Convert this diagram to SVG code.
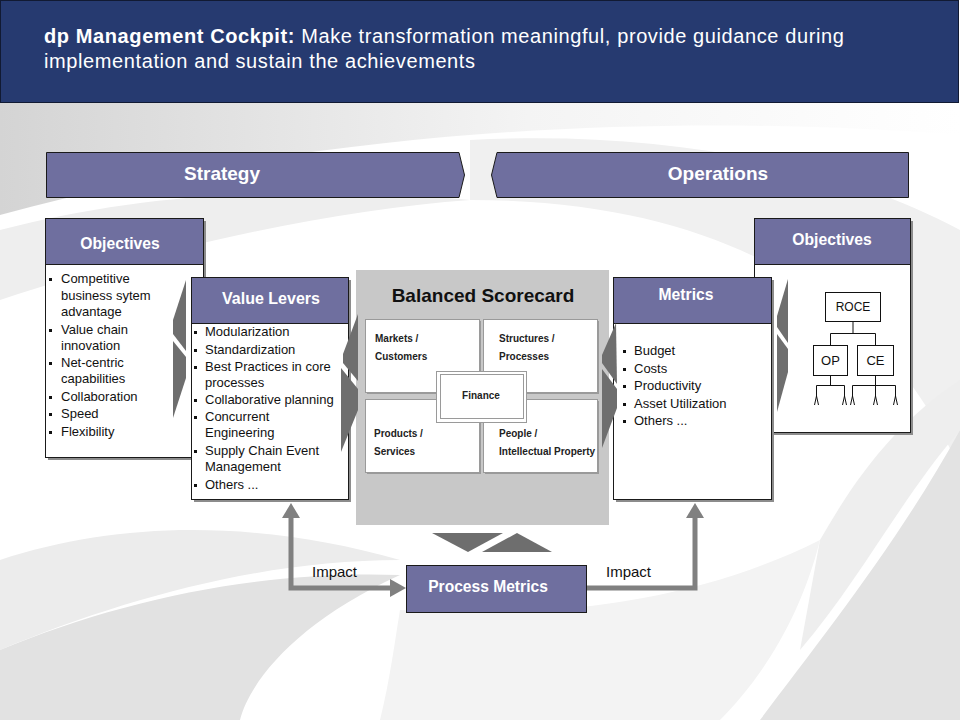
<svg xmlns="http://www.w3.org/2000/svg" width="960" height="720" viewBox="0 0 960 720">
<defs>
<style>
.t{font-family:"Liberation Sans",Arial,sans-serif}
.hd{fill:#6f6f9f;stroke:#1a1a1a;stroke-width:1}
.bx{fill:#fff;stroke:#1a1a1a;stroke-width:1}
.sh{fill:#8c8c8c}
.ht{font-family:"Liberation Sans",Arial,sans-serif;font-weight:bold;font-size:15.7px;fill:#fff;text-anchor:middle}
.bl{font-family:"Liberation Sans",Arial,sans-serif;font-size:13px;fill:#111}
.bu{fill:#111}
.chev{fill:#6e6e6e}
.q{fill:#fff;stroke:#9a9a9a;stroke-width:1}
.qt{font-family:"Liberation Sans",Arial,sans-serif;font-weight:bold;font-size:10px;fill:#222}
.tr{fill:#fff;stroke:#111;stroke-width:1}
.ln{fill:none;stroke:#111;stroke-width:1}
.conn{fill:none;stroke:#808080;stroke-width:5}
.ahd{fill:#808080}
</style>
<linearGradient id="bgTop" x1="0" y1="0" x2="1" y2="0">
<stop offset="0" stop-color="#d4d4d4"/>
<stop offset="0.55" stop-color="#f4f4f4"/>
<stop offset="1" stop-color="#ffffff"/>
</linearGradient>
</defs>

<g id="background">
<rect x="0" y="0" width="960" height="720" fill="#ffffff"/>
<path d="M0,103 H960 V135 C700,115 350,120 0,215 Z" fill="url(#bgTop)"/>
<path d="M0,230 C150,190 320,185 470,200 C330,210 150,250 0,300 Z" fill="#eeeeee"/>
<path d="M470,140 C650,130 830,160 960,230 V470 C900,330 760,200 470,200 Z" fill="#f0f0f0"/>
<path d="M0,560 C120,520 260,520 400,560 C260,560 120,600 0,650 Z" fill="#ececec"/>
<path d="M0,650 C120,600 260,570 400,575 C300,620 250,680 240,720 H0 Z" fill="#e2e2e2"/>
<path d="M400,610 C560,620 700,600 820,540 C800,620 760,680 720,720 H380 C390,680 395,640 400,610 Z" fill="#f3f3f3"/>
<path d="M960,430 C900,540 820,640 760,720 H960 Z" fill="#e3e3e3"/>
<path d="M820,540 C860,470 900,420 960,380 V430 C900,500 860,580 800,650 Z" fill="#eeeeee"/>
</g>

<g id="header">
<rect x="0.5" y="0.5" width="958" height="102" fill="#263a70" stroke="#111a33" stroke-width="1"/>
<text class="t" x="44" y="43" font-size="20" letter-spacing="0.6" fill="#fff"><tspan font-weight="bold">dp Management Cockpit:</tspan> Make transformation meaningful, provide guidance during</text>
<text class="t" x="44" y="68" font-size="20" letter-spacing="0.6" fill="#fff">implementation and sustain the achievements</text>
</g>

<g id="strategy">
<path d="M46.5,152.5 H459 L464.5,175 L459,197.5 H46.5 Z" class="hd"/>
<text class="t" x="222" y="180" font-size="19" font-weight="bold" fill="#fff" text-anchor="middle">Strategy</text>
</g>

<g id="operations">
<path d="M908.5,152.5 H497 L491.5,175 L497,197.5 H908.5 Z" class="hd"/>
<text class="t" x="718" y="180" font-size="19" font-weight="bold" fill="#fff" text-anchor="middle">Operations</text>
</g>

<g id="objectives-left">
<rect x="48" y="221" width="158" height="239" class="sh"/>
<rect x="45.5" y="218.5" width="158" height="239" class="bx"/>
<rect x="45.5" y="218.5" width="158" height="46" class="hd"/>
<text class="ht" x="120" y="249">Objectives</text>
<g class="bu">
<rect x="49" y="278" width="3" height="3"/><rect x="49" y="329" width="3" height="3"/><rect x="49" y="362" width="3" height="3"/><rect x="49" y="396" width="3" height="3"/><rect x="49" y="413" width="3" height="3"/><rect x="49" y="431" width="3" height="3"/>
</g>
<text class="bl" x="61" y="283">Competitive</text>
<text class="bl" x="61" y="299.5">business sytem</text>
<text class="bl" x="61" y="316">advantage</text>
<text class="bl" x="61" y="334">Value chain</text>
<text class="bl" x="61" y="350">innovation</text>
<text class="bl" x="61" y="367">Net-centric</text>
<text class="bl" x="61" y="383">capabilities</text>
<text class="bl" x="61" y="401">Collaboration</text>
<text class="bl" x="61" y="418">Speed</text>
<text class="bl" x="61" y="436">Flexibility</text>
</g>

<g id="chevron-a">
<polygon class="chev" points="186,280 173,320 173,334 186,351"/>
<polygon class="chev" points="173,341 186,357 186,378 173,418"/>
</g>

<g id="value-levers">
<rect x="194" y="280" width="157" height="222" class="sh"/>
<rect x="191.5" y="277.5" width="157" height="222" class="bx"/>
<rect x="191.5" y="277.5" width="157" height="46" class="hd"/>
<text class="ht" x="271" y="304" style="font-size:16px">Value Levers</text>
<g class="bu">
<rect x="194" y="331" width="3" height="3"/><rect x="194" y="349" width="3" height="3"/><rect x="194" y="366" width="3" height="3"/><rect x="194" y="399" width="3" height="3"/><rect x="194" y="416" width="3" height="3"/><rect x="194" y="450" width="3" height="3"/><rect x="194" y="484" width="3" height="3"/>
</g>
<text class="bl" x="205" y="336">Modularization</text>
<text class="bl" x="205" y="354">Standardization</text>
<text class="bl" x="205" y="370.5">Best Practices in core</text>
<text class="bl" x="205" y="386.5">processes</text>
<text class="bl" x="205" y="404">Collaborative planning</text>
<text class="bl" x="205" y="421">Concurrent</text>
<text class="bl" x="205" y="437">Engineering</text>
<text class="bl" x="205" y="455">Supply Chain Event</text>
<text class="bl" x="205" y="471">Management</text>
<text class="bl" x="205" y="489">Others  ...</text>
</g>

<g id="balanced-scorecard">
<rect x="356" y="270" width="253" height="255" fill="#c8c8c8"/>
<text class="t" x="483" y="302" font-size="19" font-weight="bold" fill="#111" text-anchor="middle">Balanced Scorecard</text>
<rect x="367" y="321" width="114" height="73" fill="#9a9a9a"/>
<rect x="485" y="321" width="114" height="73" fill="#9a9a9a"/>
<rect x="367" y="401" width="114" height="73" fill="#9a9a9a"/>
<rect x="485" y="401" width="114" height="73" fill="#9a9a9a"/>
<rect x="365.5" y="319.5" width="114" height="73" class="q"/>
<rect x="483.5" y="319.5" width="114" height="73" class="q"/>
<rect x="365.5" y="399.5" width="114" height="73" class="q"/>
<rect x="483.5" y="399.5" width="114" height="73" class="q"/>
<rect x="436.5" y="371.5" width="90" height="51" fill="#fff" stroke="#9a9a9a"/>
<rect x="440.5" y="374.5" width="83" height="44" fill="#fff" stroke="#9a9a9a"/>
<text class="qt" x="375" y="342">Markets /</text>
<text class="qt" x="375" y="360">Customers</text>
<text class="qt" x="499" y="342">Structures /</text>
<text class="qt" x="499" y="360">Processes</text>
<text class="qt" x="481" y="399" text-anchor="middle">Finance</text>
<text class="qt" x="374" y="437">Products /</text>
<text class="qt" x="374" y="455">Services</text>
<text class="qt" x="499" y="437">People /</text>
<text class="qt" x="499" y="455">Intellectual Property</text>
</g>

<g id="chevron-b">
<polygon class="chev" points="358,314 343,354 343,363 358,381"/>
<polygon class="chev" points="341,368 358,389 358,410 341,452"/>
</g>

<g id="objectives-right">
<rect x="757" y="221" width="156" height="214" class="sh"/>
<rect x="754.5" y="218.5" width="156" height="214" class="bx"/>
<rect x="754.5" y="218.5" width="156" height="46" class="hd"/>
<text class="ht" x="832" y="245">Objectives</text>
<rect x="825.5" y="292.5" width="55" height="29" class="tr"/>
<text class="t" x="853" y="311" font-size="12" fill="#111" text-anchor="middle">ROCE</text>
<rect x="813.5" y="345.5" width="34" height="30" class="tr"/>
<text class="t" x="830.5" y="365" font-size="13" fill="#111" text-anchor="middle">OP</text>
<rect x="857.5" y="345.5" width="36" height="30" class="tr"/>
<text class="t" x="875.5" y="365" font-size="13" fill="#111" text-anchor="middle">CE</text>
<path class="ln" d="M853,322 V333.5 M830.5,333.5 H875.5 M830.5,333.5 V345 M875.5,333.5 V345"/>
<path class="ln" d="M830.5,376 V385.5 M816.5,385.5 H844.5 M816.5,385.5 V397 M844.5,385.5 V397"/>
<path class="ln" d="M875.5,376 V385.5 M852.5,385.5 H895.5 M852.5,385.5 V397 M875.5,385.5 V397 M895.5,385.5 V397"/>
<path class="ln" d="M814.5,405 L816.5,396 L818.5,405 M842.5,405 L844.5,396 L846.5,405 M850.5,405 L852.5,396 L854.5,405 M873.5,405 L875.5,396 L877.5,405 M893.5,405 L895.5,396 L897.5,405"/>
</g>

<g id="metrics">
<rect x="616" y="280" width="158" height="222" class="sh"/>
<rect x="613.5" y="277.5" width="158" height="222" class="bx"/>
<rect x="613.5" y="277.5" width="158" height="46" class="hd"/>
<text class="ht" x="686" y="300">Metrics</text>
<g class="bu">
<rect x="623" y="350" width="3" height="3"/><rect x="623" y="368" width="3" height="3"/><rect x="623" y="385" width="3" height="3"/><rect x="623" y="403" width="3" height="3"/><rect x="623" y="420" width="3" height="3"/>
</g>
<text class="bl" x="634" y="355">Budget</text>
<text class="bl" x="634" y="373">Costs</text>
<text class="bl" x="634" y="390">Productivity</text>
<text class="bl" x="634" y="408">Asset Utilization</text>
<text class="bl" x="634" y="425">Others  ...</text>
</g>

<g id="chevron-c">
<polygon class="chev" points="616,323 602,355 602,363 617,384"/>
<polygon class="chev" points="602,369 617,389 617,408 602,448"/>
</g>

<g id="chevron-d">
<polygon class="chev" points="788,279 777,316 777,327 788,343"/>
<polygon class="chev" points="777,334 788,349 788,372 777,412"/>
</g>

<g id="bsc-arrows">
<polygon class="chev" points="432,533 503,533 468,552"/>
<polygon class="chev" points="482,552 552,552 517,533"/>
</g>

<g id="process-metrics">
<rect x="406.5" y="565.5" width="180" height="47" class="hd"/>
<text class="t" x="488" y="592" font-size="15.6" font-weight="bold" fill="#fff" text-anchor="middle">Process Metrics</text>
</g>

<g id="connectors">
<path class="conn" d="M291,518 V588 H391"/>
<polygon class="ahd" points="282,518 300,518 291,503"/>
<polygon class="ahd" points="390,579 390,597 406,588"/>
<path class="conn" d="M587,588 H695 V518"/>
<polygon class="ahd" points="686,518 704,518 695,503"/>
<text class="t" x="312" y="577" font-size="15" fill="#111">Impact</text>
<text class="t" x="606" y="577" font-size="15" fill="#111">Impact</text>
</g>
</svg>
